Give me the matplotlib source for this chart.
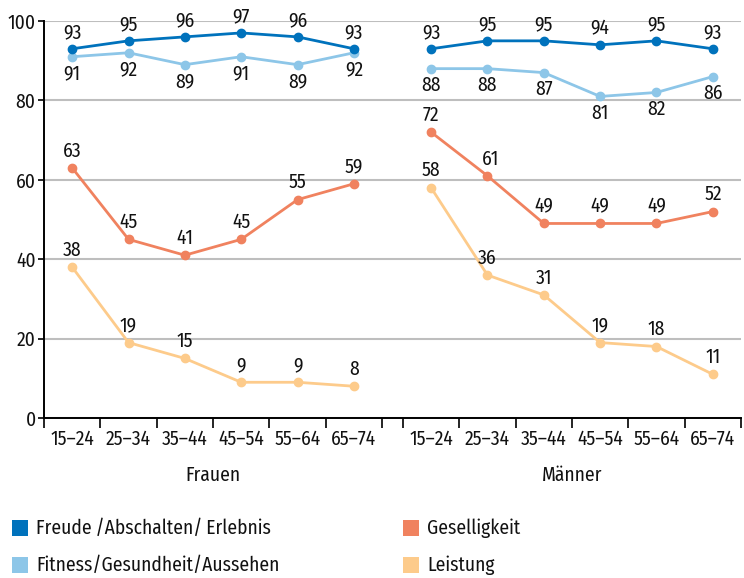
import matplotlib
matplotlib.use("Agg")
import matplotlib.pyplot as plt
from matplotlib.patches import Rectangle

plt.rcParams['font.family'] = ['Fira Sans Condensed', 'DejaVu Sans']
plt.rcParams['font.weight'] = 'normal'

age_groups = ["15–24", "25–34", "35–44", "45–54", "55–64", "65–74"]
groups = ["Frauen", "Männer"]
series_names = ["Freude\u2009/Abschalten/\u2009Erlebnis", "Fitness/Gesundheit/Aussehen", "Geselligkeit", "Leistung"]

frauen_freude = [93, 95, 96, 97, 96, 93]
frauen_fitness = [91, 92, 89, 91, 89, 92]
frauen_gesellig = [63, 45, 41, 45, 55, 59]
frauen_leistung = [38, 19, 15, 9, 9, 8]

maenner_freude = [93, 95, 95, 94, 95, 93]
maenner_fitness = [88, 88, 87, 81, 82, 86]
maenner_gesellig = [72, 61, 49, 49, 49, 52]
maenner_leistung = [58, 36, 31, 19, 18, 11]

colors = ["#0072BC", "#8DC6E8", "#F0825F", "#FDCB8B"]

data = {
    "Frauen": [frauen_freude, frauen_fitness, frauen_gesellig, frauen_leistung],
    "Männer": [maenner_freude, maenner_fitness, maenner_gesellig, maenner_leistung],
}

label_dy = [16, -17, 17, 17]

W, H = 744, 578
fig = plt.figure(figsize=(W / 100, H / 100), dpi=100)
ax = fig.add_axes([44 / W, (H - 418) / H, (741 - 44) / W, (418 - 21) / H])

gap = 0.37
n = len(age_groups)
fs = 14
tc = '#111111'

def xpos(g, i):
    return g * (n + gap) + i + 0.5

for g, grp in enumerate(groups):
    for s, vals in enumerate(data[grp]):
        xs = [xpos(g, i) for i in range(n)]
        ax.plot(xs, vals, color=colors[s], lw=2.0, marker='o', ms=6,
                clip_on=False, zorder=3 + (3 - s))
        for i, v in enumerate(vals):
            dy = label_dy[s]
            dx = 0
            if grp == "Männer" and s == 2 and i == 1:
                dx = 3
            ax.annotate(str(v), (xs[i], v), xytext=(dx, dy), textcoords='offset pixels',
                        ha='center', va='center', fontsize=fs, color=tc,
                        annotation_clip=False, zorder=10)

ax.set_xlim(0, 2 * n + gap)
ax.set_ylim(0, 100)
ax.set_yticks([0, 20, 40, 60, 80, 100])
ax.set_yticklabels(["0", "20", "40", "60", "80", "100"], fontsize=fs, color=tc)
ax.yaxis.grid(True, color='#BEBEBE', lw=1.5)
ax.set_axisbelow(True)

major = list(range(0, n + 1)) + [n + gap + k for k in range(0, n + 1)]
ax.set_xticks(major)
ax.set_xticklabels([])
ax.set_xticks([xpos(g, i) for g in range(2) for i in range(n)], minor=True)
ax.set_xticklabels(age_groups * 2, minor=True, fontsize=fs, color=tc)
ax.tick_params(axis='x', which='major', length=7, width=1.2, direction='out', color='black')
ax.tick_params(axis='x', which='minor', length=0, pad=8)
ax.tick_params(axis='y', length=4, width=1.2, color='black', pad=2)

for sp in ['top', 'right']:
    ax.spines[sp].set_visible(False)
ax.spines['left'].set_linewidth(1.4)
ax.spines['bottom'].set_linewidth(1.4)

for g, grp in enumerate(groups):
    cx = xpos(g, 0) - 0.5 + n / 2
    ax.text(cx, -14.5, grp, transform=ax.transData, ha='center', va='center',
            fontsize=fs, color=tc)

legend_pos = [(12, 528), (12, 565), (403, 528), (403, 565)]
for (lx, ly), name, c in zip(legend_pos, series_names, colors):
    fig.add_artist(Rectangle((lx / W, (H - ly - 8) / H), 16 / W, 16 / H,
                             transform=fig.transFigure, color=c, lw=0))
    fig.text((lx + 24) / W, (H - ly) / H, name, ha='left', va='center',
             fontsize=fs, color=tc)

fig.savefig("out.png", dpi=100)
